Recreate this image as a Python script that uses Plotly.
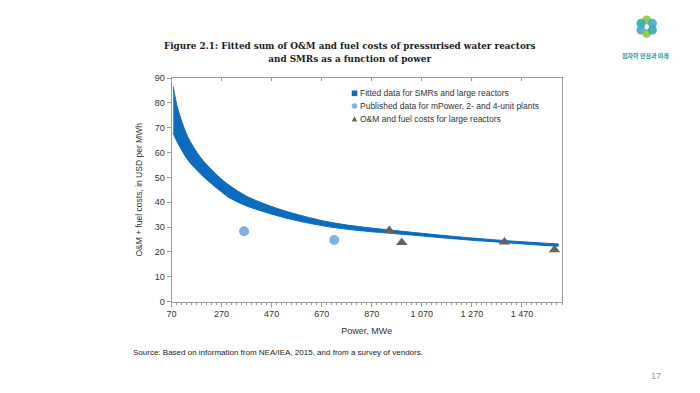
import plotly.graph_objects as go
import math

# ---- data ----
band_power = [77, 94, 134, 186, 253, 301, 370, 461, 540, 621, 700, 773, 860, 943,
              1050, 1150, 1270, 1397, 1500, 1616]
band_upper = [86.5, 78.0, 66.5, 58.0, 50.8, 46.8, 42.4, 38.6, 36.0, 33.8, 32.0, 30.8,
              29.7, 28.8, 27.7, 26.7, 25.6, 24.6, 23.9, 23.2]
band_lower = [67.8, 64.0, 57.2, 51.4, 45.5, 41.8, 38.5, 35.5, 33.3, 31.5, 30.1, 29.1,
              28.2, 27.5, 26.6, 25.7, 24.7, 23.8, 23.0, 22.3]

mpower_power = [360, 720]
mpower_cost = [28.3, 24.8]

large_power = [940, 990, 1400, 1600]
large_cost = [28.6, 23.8, 24.0, 20.9]

x_tickvals = [70, 270, 470, 670, 870, 1070, 1270, 1470]
x_ticktext = ["70", "270", "470", "670", "870", "1 070", "1 270", "1 470"]
y_tickvals = [0, 10, 20, 30, 40, 50, 60, 70, 80, 90]

legend_names = ["Fitted data for SMRs and large reactors",
                "Published data for mPower, 2- and 4-unit plants",
                "O&M and fuel costs for large reactors"]

BLUE = "#0a6cbf"
LIGHT = "#7fb1e3"
GREY = "#636363"
W, H = 700, 393
OX, OY = 8, 8  # page body margin

# ---- layout geometry (screen pixels) ----
PL, PR, PT, PB = 171.5, 562.0, 78.0, 301.6
def px(x):
    return (x - OX) / W
def py(y):
    return 1 - (y - OY) / H

fig = go.Figure()

fig.add_trace(go.Scatter(x=band_power, y=band_lower, mode="lines",
                         line=dict(color=BLUE, width=1, shape="spline", smoothing=0.8),
                         showlegend=False, hoverinfo="skip"))
fig.add_trace(go.Scatter(x=band_power, y=band_upper, mode="lines",
                         line=dict(color=BLUE, width=1, shape="spline", smoothing=0.8),
                         fill="tonexty", fillcolor=BLUE,
                         name=legend_names[0], showlegend=False))
fig.add_trace(go.Scatter(x=mpower_power, y=mpower_cost, mode="markers",
                         marker=dict(color=LIGHT, size=10, symbol="circle"),
                         name=legend_names[1], showlegend=False))
fig.add_trace(go.Scatter(x=large_power, y=large_cost, mode="markers",
                         marker=dict(color=GREY, size=10, symbol="triangle-up"),
                         name=legend_names[2], showlegend=False))
fig.add_trace(go.Scatter(x=[None], y=[None], xaxis="x2", showlegend=False))

axis_font = dict(family="Liberation Sans, Arial", size=9, color="#333333")

fig.update_layout(
    width=W, height=H,
    margin=dict(l=0, r=0, t=0, b=0, autoexpand=False),
    paper_bgcolor="white", plot_bgcolor="white",
    showlegend=False,
    xaxis=dict(domain=[px(PL), px(PR)], range=[70, 1630], automargin=False,
               tickmode="array", tickvals=x_tickvals, ticktext=x_ticktext,
               ticks="outside", ticklen=4, tickcolor="#9a9a9a",
               minor=dict(tick0=70, dtick=20, ticks="outside", ticklen=2,
                          tickcolor="#9a9a9a", showgrid=False),
               showline=True, linecolor="#9a9a9a", linewidth=1,
               showgrid=False, zeroline=False, tickfont=axis_font,
               title=dict(text="Power, MWe", font=dict(family="Liberation Sans, Arial",
                                                         size=9, color="#333333"),
                          standoff=9)),
    xaxis2=dict(overlaying="x", side="top", range=[70, 1630], anchor="y", automargin=False,
                tickmode="array", tickvals=x_tickvals, showticklabels=False,
                ticks="inside", ticklen=3, tickcolor="#9a9a9a",
                showline=True, linecolor="#9a9a9a", linewidth=1,
                showgrid=False, zeroline=False),
    yaxis=dict(domain=[py(PB), py(PT)], range=[0, 90], automargin=False,
               tickmode="array", tickvals=y_tickvals,
               ticks="outside", ticklen=4, tickcolor="#9a9a9a",
               showline=True, linecolor="#9a9a9a", linewidth=1, mirror=True,
               showgrid=False, zeroline=False, tickfont=axis_font,
               title=dict(text="O&M + fuel costs, in USD per MWh",
                          font=dict(family="Liberation Sans, Arial", size=8.5,
                                    color="#333333"),
                          standoff=10)),
)

# ---- title ----
fig.add_annotation(text="<b>Figure 2.1: Fitted sum of O&M and fuel costs of pressurised water reactors"
                        "<br>and SMRs as a function of power</b>",
                   x=px(349), y=py(51.5), xref="paper", yref="paper",
                   xanchor="center", yanchor="middle", showarrow=False,
                   font=dict(family="DejaVu Serif Condensed, DejaVu Serif", size=9.8,
                             color="#1a1a1a"),
                   align="center")

# ---- manual legend ----
leg_x = 354.5
leg_y = [93.3, 106.0, 119.3]
s = 2.8
fig.add_shape(type="rect", xref="paper", yref="paper",
              x0=px(leg_x - s), x1=px(leg_x + s), y0=py(leg_y[0] + s), y1=py(leg_y[0] - s),
              fillcolor=BLUE, line=dict(width=0))
fig.add_shape(type="circle", xref="paper", yref="paper",
              x0=px(leg_x - s), x1=px(leg_x + s), y0=py(leg_y[1] + s), y1=py(leg_y[1] - s),
              fillcolor=LIGHT, line=dict(width=0))
fig.add_shape(type="path", xref="paper", yref="paper",
              path=f"M {px(leg_x - s)} {py(leg_y[2] + s * 0.8)} L {px(leg_x + s)} {py(leg_y[2] + s * 0.8)} "
                   f"L {px(leg_x)} {py(leg_y[2] - s * 1.1)} Z",
              fillcolor=GREY, line=dict(width=0))
for name, yy in zip(legend_names, leg_y):
    fig.add_annotation(text=name, x=px(leg_x + 4), y=py(yy), xref="paper", yref="paper",
                       xanchor="left", yanchor="middle", showarrow=False,
                       font=dict(family="Liberation Sans Narrow, Liberation Sans, Arial",
                                 size=8.5, color="#333333"))

# ---- source & page number ----
fig.add_annotation(text="Source: Based on information from NEA/IEA, 2015, and from a survey of vendors.",
                   x=px(131), y=py(352), xref="paper", yref="paper",
                   xanchor="left", yanchor="middle", showarrow=False,
                   font=dict(family="Liberation Sans, Arial", size=8, color="#222222"))
fig.add_annotation(text="17", x=px(656), y=py(376), xref="paper", yref="paper",
                   xanchor="center", yanchor="middle", showarrow=False,
                   font=dict(family="Liberation Sans, Arial", size=9, color="#9a9a9a"))

# ---- logo (decorative) ----
cx, cy = 646.7, 26.7
petal_colors = ["#8cc63e", "#2bb0a6", "#3fa9d6", "#8cc63e", "#2bb0a6", "#3fa9d6"]
for i, c in enumerate(petal_colors):
    a = math.radians(90 + 60 * i)
    pxc = cx + 6.5 * math.cos(a)
    pyc = cy - 6.5 * math.sin(a)
    r = 4.6
    fig.add_shape(type="circle", xref="paper", yref="paper",
                  x0=px(pxc - r), x1=px(pxc + r), y0=py(pyc + r), y1=py(pyc - r),
                  fillcolor=c, line=dict(width=0), opacity=0.9)
fig.add_shape(type="circle", xref="paper", yref="paper",
              x0=px(cx - 2.2), x1=px(cx + 2.2), y0=py(cy + 2.2), y1=py(cy - 2.2),
              fillcolor="white", line=dict(width=0))
fig.add_annotation(text="<b>원자력 안전과 미래</b>", x=px(645), y=py(55.5), xref="paper", yref="paper",
                   xanchor="center", yanchor="middle", showarrow=False,
                   font=dict(family="Noto Sans CJK KR", size=6, color="#23a08c"))

fig.write_html("out.html")
